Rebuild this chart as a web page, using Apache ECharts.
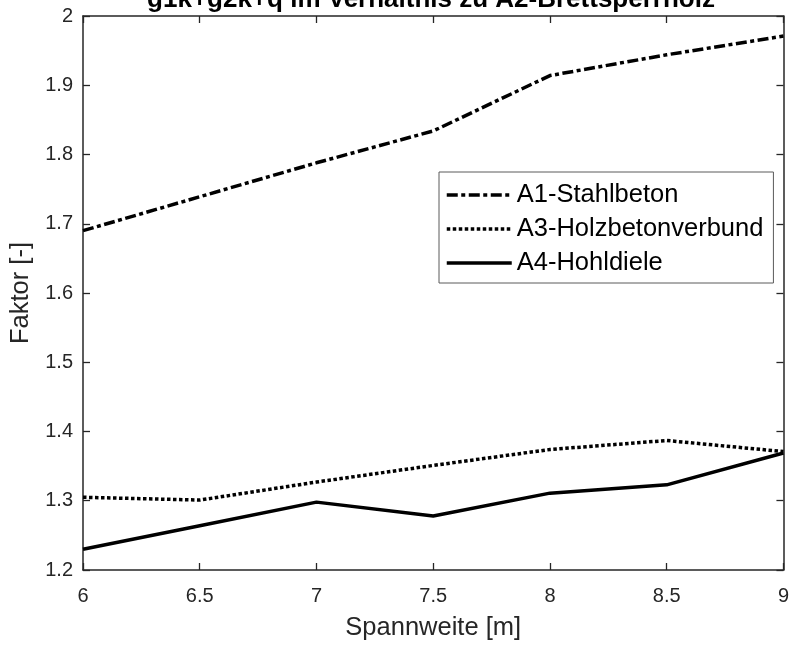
<!DOCTYPE html>
<html>
<head>
<meta charset="utf-8">
<script src="https://cdn.jsdelivr.net/npm/echarts@6/dist/echarts.min.js"></script>
<style>html,body{margin:0;padding:0;background:#fff;}#c{width:792px;height:646px;}</style>
</head>
<body>
<div id="c"></div>
<script>
var spans = [6, 6.5, 7, 7.5, 8, 8.5, 9];
var a1Stahlbeton = [1.690, 1.739, 1.788, 1.834, 1.914, 1.944, 1.971];
var a3Holzbeton = [1.305, 1.301, 1.327, 1.351, 1.374, 1.387, 1.371];
var a4Hohldiele = [1.230, 1.264, 1.298, 1.278, 1.311, 1.323, 1.369];
var seriesNames = ['A1-Stahlbeton', 'A3-Holzbetonverbund', 'A4-Hohldiele'];
var titleText = 'g1k+g2k+q im Verhältnis zu A2-Brettsperrholz';

function pairs(ys) { return spans.map(function (x, i) { return [x, ys[i]]; }); }

var axisColor = '#262626';
var font = 'Arial, "Liberation Sans", sans-serif';
var chart = echarts.init(document.getElementById('c'));
function fmt(v) { return String(+(+v).toFixed(1)); }
var baseAxis = {
  axisLine: { show: true, onZero: false, lineStyle: { color: axisColor, width: 1.5 } },
  axisTick: { show: true, inside: true, length: 7, lineStyle: { color: axisColor, width: 1.3 } },
  splitLine: { show: false }
};
chart.setOption({
  animation: false,
  backgroundColor: '#ffffff',
  title: {
    text: titleText, left: 431, top: -13, textAlign: 'center', padding: 0,
    textStyle: { fontFamily: font, fontSize: 26, fontWeight: 'bold', color: '#000' }
  },
  grid: { left: 83, right: 8, top: 16, bottom: 76 },
  legend: {
    orient: 'vertical', left: 439, top: 172,
    padding: [10, 10, 7, 6], itemGap: 8, itemWidth: 65, itemHeight: 26,
    borderColor: '#5a5a5a', borderWidth: 1, backgroundColor: '#fff',
    itemStyle: { opacity: 0, borderWidth: 0 },
    lineStyle: { width: 3.5 },
    textStyle: { fontFamily: font, fontSize: 25.5, color: '#000' },
    data: seriesNames
  },
  xAxis: [
    Object.assign({}, baseAxis, {
      type: 'value', min: 6, max: 9, interval: 0.5, position: 'bottom',
      name: 'Spannweite [m]', nameLocation: 'middle', nameGap: 45,
      nameTextStyle: { fontFamily: font, fontSize: 25.5, color: axisColor },
      axisLabel: { fontFamily: font, fontSize: 20, color: axisColor, margin: 16, formatter: fmt }
    }),
    Object.assign({}, baseAxis, {
      type: 'value', min: 6, max: 9, interval: 0.5, position: 'top', axisLabel: { show: false }
    })
  ],
  yAxis: [
    Object.assign({}, baseAxis, {
      type: 'value', min: 1.2, max: 2, interval: 0.1, position: 'left',
      name: 'Faktor [-]', nameLocation: 'middle', nameGap: 44,
      nameTextStyle: { fontFamily: font, fontSize: 25.5, color: axisColor },
      axisLabel: { fontFamily: font, fontSize: 20, color: axisColor, margin: 10, formatter: fmt }
    }),
    Object.assign({}, baseAxis, {
      type: 'value', min: 1.2, max: 2, interval: 0.1, position: 'right', axisLabel: { show: false }
    })
  ],
  series: [
    { name: seriesNames[0], type: 'line', data: pairs(a1Stahlbeton), showSymbol: false, symbol: 'none',
      lineStyle: { color: '#000', width: 3.5, type: [11, 3.5, 4, 3.5] }, itemStyle: { color: '#000' } },
    { name: seriesNames[1], type: 'line', data: pairs(a3Holzbeton), showSymbol: false, symbol: 'none',
      lineStyle: { color: '#000', width: 3.5, type: [3.5, 2.5] }, itemStyle: { color: '#000' } },
    { name: seriesNames[2], type: 'line', data: pairs(a4Hohldiele), showSymbol: false, symbol: 'none',
      lineStyle: { color: '#000', width: 3.5, type: 'solid' }, itemStyle: { color: '#000' } }
  ]
});
</script>
</body>
</html>
